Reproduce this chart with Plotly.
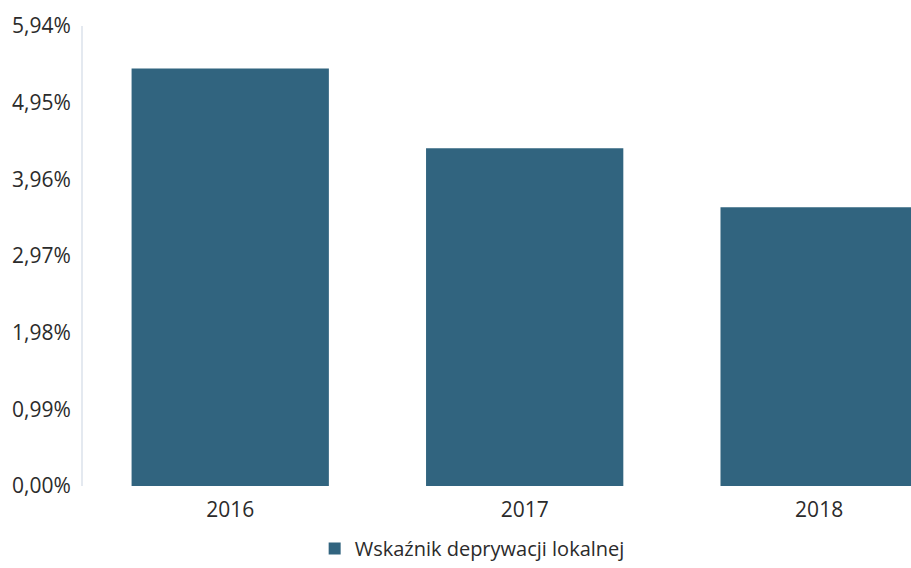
import plotly.graph_objects as go

years = ["2016", "2017", "2018"]
values = [5.39, 4.36, 3.60]
series_name = "Wskaźnik deprywacji lokalnej"
tick_vals = [0.0, 0.99, 1.98, 2.97, 3.96, 4.95, 5.94]
tick_text = ["0,00%", "0,99%", "1,98%", "2,97%", "3,96%", "4,95%", "5,94%"]

fig = go.Figure()
fig.add_trace(go.Bar(
    x=years, y=values, name=series_name,
    marker=dict(color="#31647f", line=dict(width=0)),
    width=0.67, showlegend=True,
))

font_family = "Open Sans, Noto Sans, sans-serif"
fig.update_layout(
    width=911, height=568,
    margin=dict(l=83, r=0, t=26, b=79),
    paper_bgcolor="white", plot_bgcolor="white",
    font=dict(family=font_family, size=21, color="#2b2b2b"),
    showlegend=True,
    legend=dict(orientation="h", x=0.470, xanchor="center", y=-0.137, yanchor="middle",
                font=dict(size=20, color="#2b2b2b"), itemwidth=30),
    xaxis=dict(range=[-0.5, 2.312], showline=False, showgrid=False, ticks="",
               tickfont=dict(size=21), zeroline=False, ticklabelstandoff=9),
    yaxis=dict(range=[0, 5.94], tickvals=tick_vals, ticktext=tick_text,
               showgrid=False, zeroline=False, showline=True, linecolor="#e4e9f0",
               linewidth=2, ticks="", ticklabelstandoff=6, tickfont=dict(size=21)),
)
fig.write_html(
    "out.html",
    config={"responsive": False, "displayModeBar": False},
    post_script="document.body.style.margin='0';document.body.style.overflow='hidden';",
)
